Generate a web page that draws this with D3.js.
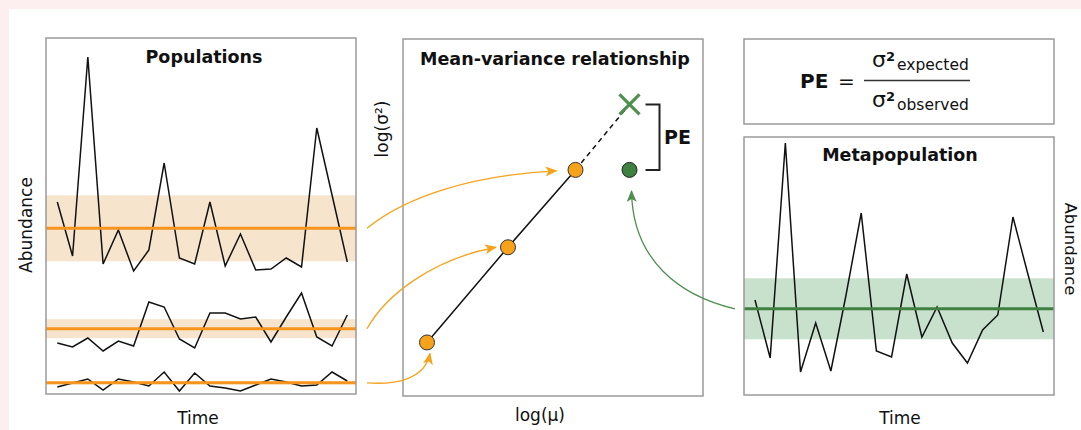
<!DOCTYPE html>
<html>
<head>
<meta charset="utf-8">
<script src="https://cdn.jsdelivr.net/npm/d3@7"></script>
<style>
  body { margin: 0; background: #fff; }
  text { font-family: "DejaVu Sans", Verdana, sans-serif; fill: #111; }
</style>
</head>
<body>
<script>
var width = 1081,
    height = 430;

// abundance through time (20 time steps) for the three populations
var time = d3.range(20);
var popHigh = [192, 138, 337, 130, 164, 123, 144, 231, 136, 130, 192, 128, 160, 124, 125, 136, 127, 266, 199, 132];
var popMid  = [51, 47, 56, 43, 53, 48, 92, 87, 55, 46, 81, 81, 75, 77, 52, 77, 101, 57, 48, 79];
var popLow  = [7, 11, 15, 4, 15, 12, 8, 22, 3, 21, 8, 6, 3, 9, 15, 12, 8, 9, 22, 13];
var popBand = [33, 9.5, 1.5];   // half height of the shaded band

// summed metapopulation
var meta = [95, 37, 252, 23, 72, 24, 100, 182, 44, 38, 121, 58, 88, 52, 32, 65, 80, 178, 120, 63];
var metaBand = 30.5;

// mean-variance relationship (log units)
var logMean = [0.8, 3.5, 5.75];
var logVar  = [1.8, 5.0, 7.6];
var metaLogMean = 7.55,
    metaLogVarObs = 7.6,
    metaLogVarExp = 9.8;

var orange = "#f7941d",
    orangeFill = "#f7a21b",
    orangeBand = "#f6e4cd",
    green = "#3f8040",
    greenLight = "#4f8f50",
    greenBand = "#c7e1cd",
    boxStroke = "#9a9a9a";

var svg = d3.select("body").append("svg")
    .attr("width", width)
    .attr("height", height);

svg.append("rect").attr("width", width).attr("height", height).attr("fill", "#fdeff0");
svg.append("rect").attr("x", 9).attr("y", 9).attr("width", width).attr("height", height).attr("fill", "#fff");

var defs = svg.append("defs");
[["arrow-orange", orangeFill], ["arrow-green", greenLight]].forEach(function(m) {
  defs.append("marker")
      .attr("id", m[0])
      .attr("viewBox", "0 0 12 10")
      .attr("refX", 11)
      .attr("refY", 5)
      .attr("markerUnits", "userSpaceOnUse")
      .attr("markerWidth", 12)
      .attr("markerHeight", 10)
      .attr("orient", "auto")
    .append("path")
      .attr("d", "M0,0L12,5L0,10L3,5Z")
      .attr("fill", m[1]);
});

// ---------- Populations ----------
var boxL = {x0: 46, x1: 356, y0: 38, y1: 394};

var xL = d3.scaleLinear().domain([0, 19]).range([57.3, 347.3]);
var yL = d3.scaleLinear().domain([0, 356]).range([boxL.y1, boxL.y0]);

var left = svg.append("g");
var pops = [popHigh, popMid, popLow];
var lineL = d3.line().x(function(d, i) { return xL(time[i]); }).y(function(d) { return yL(d); });

pops.forEach(function(p, k) {
  var m = d3.mean(p);
  left.append("rect")
      .attr("x", boxL.x0)
      .attr("width", boxL.x1 - boxL.x0)
      .attr("y", yL(m + popBand[k]))
      .attr("height", yL(m - popBand[k]) - yL(m + popBand[k]))
      .attr("fill", orangeBand);
});
pops.forEach(function(p) {
  left.append("path")
      .datum(p)
      .attr("d", lineL)
      .attr("fill", "none")
      .attr("stroke", "#111")
      .attr("stroke-width", 1.5)
      .attr("stroke-linejoin", "miter");
});
pops.forEach(function(p) {
  var m = d3.mean(p);
  left.append("line")
      .attr("x1", boxL.x0).attr("x2", boxL.x1)
      .attr("y1", yL(m)).attr("y2", yL(m))
      .attr("stroke", orange)
      .attr("stroke-width", 3);
});
left.append("rect")
    .attr("x", boxL.x0).attr("y", boxL.y0)
    .attr("width", boxL.x1 - boxL.x0).attr("height", boxL.y1 - boxL.y0)
    .attr("fill", "none").attr("stroke", boxStroke).attr("stroke-width", 1.5);

left.append("text")
    .attr("x", 204).attr("y", 63)
    .attr("text-anchor", "middle")
    .attr("font-weight", "bold")
    .attr("font-size", 17.5)
    .text("Populations");
left.append("text")
    .attr("transform", "translate(26,225) rotate(-90)")
    .attr("dy", "0.35em")
    .attr("text-anchor", "middle")
    .attr("font-size", 17)
    .text("Abundance");
left.append("text")
    .attr("x", 198).attr("y", 424)
    .attr("text-anchor", "middle")
    .attr("font-size", 17)
    .text("Time");

// ---------- Mean-variance relationship ----------
var boxM = {x0: 403, x1: 703, y0: 39, y1: 396};
var xM = d3.scaleLinear().domain([0, 10]).range([boxM.x0, boxM.x1]);
var yM = d3.scaleLinear().domain([0, 12]).range([boxM.y1, boxM.y0]);

var mid = svg.append("g");
mid.append("rect")
    .attr("x", boxM.x0).attr("y", boxM.y0)
    .attr("width", boxM.x1 - boxM.x0).attr("height", boxM.y1 - boxM.y0)
    .attr("fill", "none").attr("stroke", boxStroke).attr("stroke-width", 1.5);

mid.append("text")
    .attr("x", 555).attr("y", 65)
    .attr("text-anchor", "middle")
    .attr("font-weight", "bold")
    .attr("font-size", 17.5)
    .text("Mean-variance relationship");
mid.append("text")
    .attr("transform", "translate(382,129) rotate(-90)")
    .attr("dy", "0.35em")
    .attr("text-anchor", "middle")
    .attr("font-size", 17)
    .text("log(σ²)");
mid.append("text")
    .attr("x", 540).attr("y", 421)
    .attr("text-anchor", "middle")
    .attr("font-size", 17)
    .text("log(μ)");

var pts = logMean.map(function(d, i) { return [xM(d), yM(logVar[i])]; });
mid.append("path")
    .attr("d", d3.line()(pts))
    .attr("fill", "none").attr("stroke", "#111").attr("stroke-width", 1.5);
mid.append("line")
    .attr("x1", pts[2][0]).attr("y1", pts[2][1])
    .attr("x2", xM(metaLogMean)).attr("y2", yM(metaLogVarExp))
    .attr("stroke", "#111").attr("stroke-width", 1.5)
    .attr("stroke-dasharray", "5,4");

mid.selectAll(".pop")
    .data(pts)
  .enter().append("circle")
    .attr("class", "pop")
    .attr("cx", function(d) { return d[0]; })
    .attr("cy", function(d) { return d[1]; })
    .attr("r", 7.5)
    .attr("fill", orangeFill)
    .attr("stroke", "#333")
    .attr("stroke-width", 1);

var mx = xM(metaLogMean), my = yM(metaLogVarObs), ey = yM(metaLogVarExp);
mid.append("circle")
    .attr("cx", mx).attr("cy", my).attr("r", 7.5)
    .attr("fill", green).attr("stroke", "#222").attr("stroke-width", 1);
mid.append("path")
    .attr("d", "M" + (mx - 10) + "," + (ey - 10) + "L" + (mx + 10) + "," + (ey + 10) +
               "M" + (mx + 10) + "," + (ey - 10) + "L" + (mx - 10) + "," + (ey + 10))
    .attr("stroke", greenLight).attr("stroke-width", 3.2).attr("fill", "none");

mid.append("path")
    .attr("d", "M" + (mx + 16) + "," + ey + "H" + (mx + 30) + "V" + my + "H" + (mx + 16))
    .attr("fill", "none").attr("stroke", "#222").attr("stroke-width", 2);
mid.append("text")
    .attr("x", mx + 48).attr("y", (ey + my) / 2 + 7)
    .attr("text-anchor", "middle")
    .attr("font-weight", "bold")
    .attr("font-size", 19)
    .text("PE");

// ---------- PE formula ----------
var formula = svg.append("g");
formula.append("rect")
    .attr("x", 744).attr("y", 39).attr("width", 310).attr("height", 85)
    .attr("fill", "none").attr("stroke", boxStroke).attr("stroke-width", 1.5);
formula.append("text").attr("x", 800).attr("y", 88).attr("font-weight", "bold").attr("font-size", 20).text("PE");
formula.append("text").attr("x", 838).attr("y", 88).attr("font-size", 20).text("=");
formula.append("line")
    .attr("x1", 864).attr("x2", 970).attr("y1", 80.5).attr("y2", 80.5)
    .attr("stroke", "#333").attr("stroke-width", 1.3);
[[66.5, "expected"], [106.5, "observed"]].forEach(function(r) {
  formula.append("text").attr("x", 872).attr("y", r[0]).attr("font-size", 22).text("σ");
  formula.append("text").attr("x", 886).attr("y", r[0] - 6).attr("font-size", 13).attr("font-weight", "bold").text("2");
  formula.append("text").attr("x", 897).attr("y", r[0] + 3).attr("font-size", 15.5).text(r[1]);
});

// ---------- Metapopulation ----------
var boxR = {x0: 744, x1: 1054, y0: 137, y1: 395};
var xR = d3.scaleLinear().domain([0, 19]).range([755, 1043.3]);
var yR = d3.scaleLinear().domain([0, 258]).range([boxR.y1, boxR.y0]);
var right = svg.append("g");
var mMeta = d3.mean(meta);

right.append("rect")
    .attr("x", boxR.x0).attr("width", boxR.x1 - boxR.x0)
    .attr("y", yR(mMeta + metaBand))
    .attr("height", yR(mMeta - metaBand) - yR(mMeta + metaBand))
    .attr("fill", greenBand);
right.append("path")
    .datum(meta)
    .attr("d", d3.line().x(function(d, i) { return xR(time[i]); }).y(function(d) { return yR(d); }))
    .attr("fill", "none").attr("stroke", "#111").attr("stroke-width", 1.5);
right.append("line")
    .attr("x1", boxR.x0).attr("x2", boxR.x1)
    .attr("y1", yR(mMeta)).attr("y2", yR(mMeta))
    .attr("stroke", green).attr("stroke-width", 3);
right.append("rect")
    .attr("x", boxR.x0).attr("y", boxR.y0)
    .attr("width", boxR.x1 - boxR.x0).attr("height", boxR.y1 - boxR.y0)
    .attr("fill", "none").attr("stroke", boxStroke).attr("stroke-width", 1.5);
right.append("text")
    .attr("x", 900).attr("y", 161)
    .attr("text-anchor", "middle")
    .attr("font-weight", "bold")
    .attr("font-size", 17.5)
    .text("Metapopulation");
right.append("text")
    .attr("x", 900).attr("y", 424)
    .attr("text-anchor", "middle")
    .attr("font-size", 17)
    .text("Time");
right.append("text")
    .attr("transform", "translate(1071,249) rotate(90)")
    .attr("dy", "0.35em")
    .attr("text-anchor", "middle")
    .attr("font-size", 16.5)
    .text("Abundance");

// ---------- arrows ----------
var arrows = svg.append("g").attr("fill", "none").attr("stroke-width", 1.3);
var sx = boxL.x1 + 11;

var a1 = d3.path(), s1 = yL(d3.mean(popHigh));
a1.moveTo(sx, s1);
a1.bezierCurveTo(sx + 38, s1 - 31, sx + 103, s1 - 53, pts[2][0] - 19, pts[2][1] + 1);
var a2 = d3.path(), s2 = yL(d3.mean(popMid));
a2.moveTo(sx, s2);
a2.bezierCurveTo(sx + 18, s2 - 32, sx + 63, s2 - 69, pts[1][0] - 12, pts[1][1]);
var a3 = d3.path(), s3 = yL(d3.mean(popLow));
a3.moveTo(sx, s3);
a3.bezierCurveTo(sx + 28, s3 + 2, sx + 58, s3 - 3, pts[0][0] + 3, pts[0][1] + 11);

[a1, a2, a3].forEach(function(p) {
  arrows.append("path")
      .attr("d", p.toString())
      .attr("stroke", orangeFill)
      .attr("marker-end", "url(#arrow-orange)");
});

var g1 = d3.path(), gs = yR(mMeta);
g1.moveTo(boxR.x0 - 9, gs);
g1.bezierCurveTo(boxR.x0 - 64, gs - 13, mx + 3, gs - 48, mx + 2, my + 21);
arrows.append("path")
    .attr("d", g1.toString())
    .attr("stroke", greenLight)
    .attr("marker-end", "url(#arrow-green)");
</script>
</body>
</html>
